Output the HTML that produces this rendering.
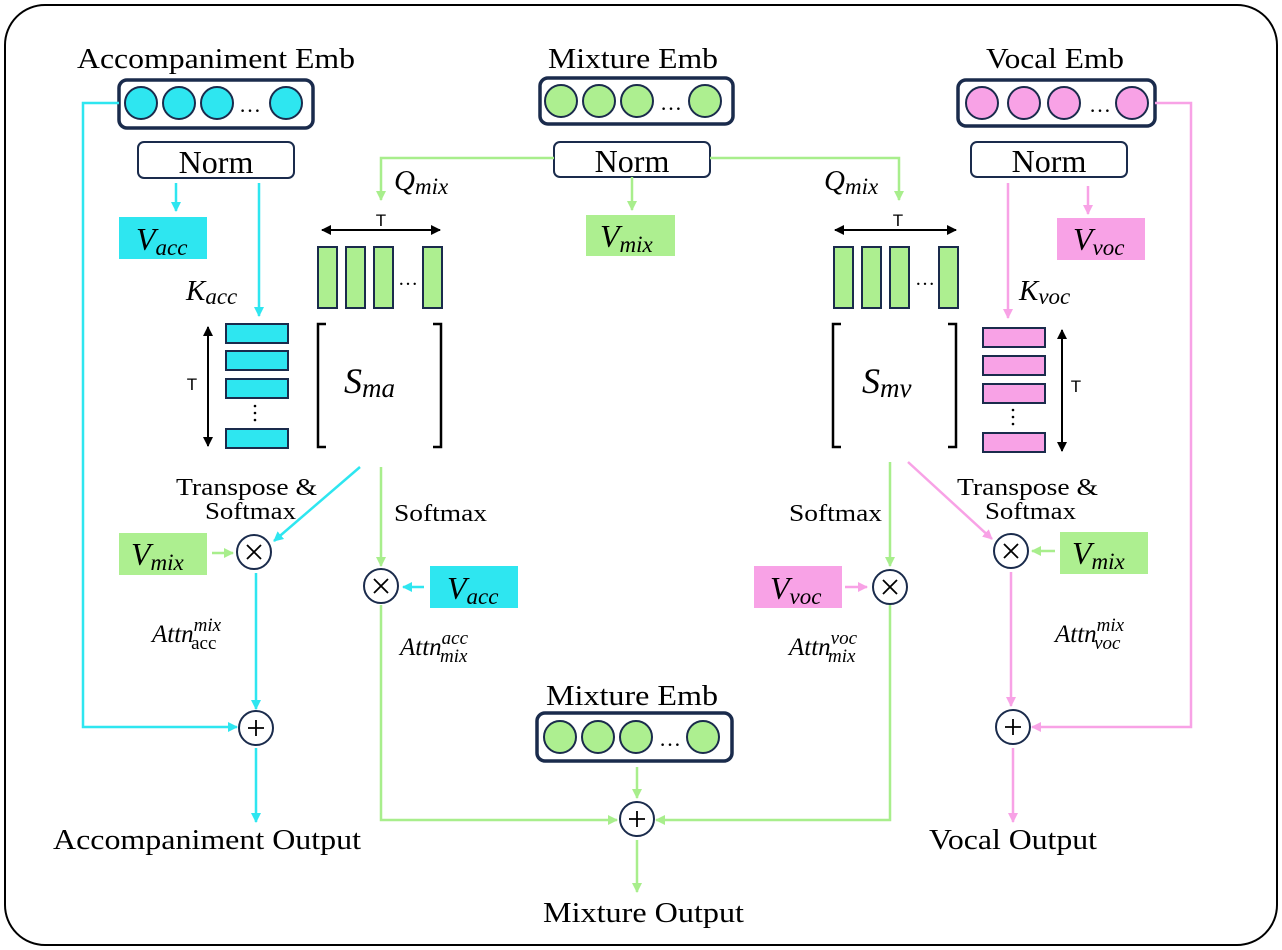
<!DOCTYPE html>
<html><head><meta charset="utf-8"><style>
html,body{margin:0;padding:0;background:#fff}
svg{display:block}
.t{font-family:"Liberation Serif",serif;fill:#000}
.m{font-family:"Liberation Serif",serif;font-style:italic;fill:#000}
.s{font-family:"Liberation Sans",sans-serif;fill:#000}
</style></head><body>
<svg width="1282" height="950" viewBox="0 0 1282 950" xmlns="http://www.w3.org/2000/svg">
<defs>
<marker id="ac" markerWidth="10" markerHeight="10" refX="9" refY="5" orient="auto" markerUnits="userSpaceOnUse"><path d="M0,0 L10,5 L0,10 z" fill="#2EE6F0"/></marker>
<marker id="ag" markerWidth="10" markerHeight="10" refX="9" refY="5" orient="auto" markerUnits="userSpaceOnUse"><path d="M0,0 L10,5 L0,10 z" fill="#A8EE8C"/></marker>
<marker id="ap" markerWidth="10" markerHeight="10" refX="9" refY="5" orient="auto" markerUnits="userSpaceOnUse"><path d="M0,0 L10,5 L0,10 z" fill="#F8A2E6"/></marker>
<marker id="ak" markerWidth="10" markerHeight="10" refX="9" refY="5" orient="auto-start-reverse" markerUnits="userSpaceOnUse"><path d="M0,0 L10,5 L0,10 z" fill="#000"/></marker>
</defs>
<rect x="5" y="5" width="1272" height="940" rx="40" fill="#fff" stroke="#000" stroke-width="2"/>

<text class="t" x="77" y="68" font-size="28" textLength="278" lengthAdjust="spacingAndGlyphs">Accompaniment Emb</text>
<text class="t" x="548" y="68" font-size="28" textLength="170" lengthAdjust="spacingAndGlyphs">Mixture Emb</text>
<text class="t" x="986" y="68" font-size="28" textLength="138" lengthAdjust="spacingAndGlyphs">Vocal Emb</text>

<g stroke="#1a2b4c">
<rect x="119" y="80" width="194" height="48" rx="8" fill="#fff" stroke-width="3.5"/>
<g fill="#2EE6F0" stroke-width="2"><circle cx="141" cy="103" r="16"/><circle cx="179" cy="103" r="16"/><circle cx="217" cy="103" r="16"/><circle cx="286" cy="103" r="16"/></g>
<rect x="540" y="78" width="193" height="46" rx="8" fill="#fff" stroke-width="3.5"/>
<g fill="#ADEF90" stroke-width="2"><circle cx="561" cy="101" r="16"/><circle cx="599" cy="101" r="16"/><circle cx="637" cy="101" r="16"/><circle cx="705" cy="101" r="16"/></g>
<rect x="958" y="80" width="197" height="46" rx="8" fill="#fff" stroke-width="3.5"/>
<g fill="#F8A2E6" stroke-width="2"><circle cx="982" cy="103" r="16"/><circle cx="1024" cy="103" r="16"/><circle cx="1064" cy="103" r="16"/><circle cx="1132" cy="103" r="16"/></g>
</g>
<text class="t" x="250" y="112" font-size="22" text-anchor="middle">…</text>
<text class="t" x="671" y="110" font-size="22" text-anchor="middle">…</text>
<text class="t" x="1100" y="112" font-size="22" text-anchor="middle">…</text>

<g fill="#fff" stroke="#1a2b4c" stroke-width="2">
<rect x="138" y="142" width="156" height="36" rx="6"/>
<rect x="554" y="142" width="156" height="35" rx="6"/>
<rect x="971" y="142" width="156" height="35" rx="6"/>
</g>
<text class="t" x="216" y="173" font-size="32" text-anchor="middle">Norm</text>
<text class="t" x="632" y="172" font-size="32" text-anchor="middle">Norm</text>
<text class="t" x="1049" y="172" font-size="32" text-anchor="middle">Norm</text>

<g stroke="#2EE6F0" stroke-width="2.5" fill="none">
<polyline points="119,103 83,103 83,727 237,727" marker-end="url(#ac)"/>
<line x1="176" y1="183" x2="176" y2="211" marker-end="url(#ac)"/>
<line x1="259" y1="183" x2="259" y2="316" marker-end="url(#ac)"/>
<line x1="360" y1="467" x2="274" y2="541" marker-end="url(#ac)"/>
<line x1="256" y1="573" x2="256" y2="709" marker-end="url(#ac)"/>
<line x1="256" y1="748" x2="256" y2="822" marker-end="url(#ac)"/>
<line x1="424" y1="587" x2="403" y2="587" marker-end="url(#ac)"/>
</g>
<g stroke="#A8EE8C" stroke-width="2.5" fill="none">
<polyline points="554,158 381,158 381,200" marker-end="url(#ag)"/>
<polyline points="710,158 899,158 899,200" marker-end="url(#ag)"/>
<line x1="632" y1="177" x2="632" y2="210" marker-end="url(#ag)"/>
<line x1="381" y1="467" x2="381" y2="566" marker-end="url(#ag)"/>
<polyline points="381,605 381,820 617,820" marker-end="url(#ag)"/>
<line x1="637" y1="767" x2="637" y2="798" marker-end="url(#ag)"/>
<line x1="637" y1="840" x2="637" y2="892" marker-end="url(#ag)"/>
<line x1="890" y1="462" x2="890" y2="566" marker-end="url(#ag)"/>
<polyline points="890,605 890,820 656,820" marker-end="url(#ag)"/>
<line x1="212" y1="553" x2="233" y2="553" marker-end="url(#ag)"/>
<line x1="1055" y1="551" x2="1032" y2="551" marker-end="url(#ag)"/>
</g>
<g stroke="#F8A2E6" stroke-width="2.5" fill="none">
<polyline points="1155,103 1191,103 1191,727 1032,727" marker-end="url(#ap)"/>
<line x1="1008" y1="183" x2="1008" y2="318" marker-end="url(#ap)"/>
<line x1="1088" y1="186" x2="1088" y2="214" marker-end="url(#ap)"/>
<line x1="908" y1="462" x2="992" y2="539" marker-end="url(#ap)"/>
<line x1="1011" y1="572" x2="1011" y2="706" marker-end="url(#ap)"/>
<line x1="1013" y1="748" x2="1013" y2="822" marker-end="url(#ap)"/>
<line x1="845" y1="587" x2="867" y2="587" marker-end="url(#ap)"/>
</g>

<rect x="119" y="217" width="88" height="42" fill="#2EE6F0"/>
<text class="m" x="136" y="250" font-size="32">V<tspan font-size="23" dy="5">acc</tspan></text>
<rect x="586" y="215" width="89" height="41" fill="#ADEF90"/>
<text class="m" x="600" y="247" font-size="32">V<tspan font-size="23" dy="5">mix</tspan></text>
<rect x="1057" y="218" width="88" height="42" fill="#F8A2E6"/>
<text class="m" x="1073" y="250" font-size="32">V<tspan font-size="23" dy="5">voc</tspan></text>

<rect x="119" y="533" width="88" height="42" fill="#ADEF90"/>
<text class="m" x="131" y="565" font-size="32">V<tspan font-size="23" dy="5">mix</tspan></text>
<rect x="430" y="566" width="88" height="42" fill="#2EE6F0"/>
<text class="m" x="447" y="599" font-size="32">V<tspan font-size="23" dy="5">acc</tspan></text>
<rect x="754" y="566" width="88" height="42" fill="#F8A2E6"/>
<text class="m" x="770" y="599" font-size="32">V<tspan font-size="23" dy="5">voc</tspan></text>
<rect x="1060" y="532" width="88" height="42" fill="#ADEF90"/>
<text class="m" x="1072" y="564" font-size="32">V<tspan font-size="23" dy="5">mix</tspan></text>

<text class="m" x="394" y="190" font-size="29">Q<tspan font-size="23" dy="4">mix</tspan></text>
<text class="m" x="824" y="190" font-size="29">Q<tspan font-size="23" dy="4">mix</tspan></text>
<text class="m" x="186" y="300" font-size="29">K<tspan font-size="23" dy="4">acc</tspan></text>
<text class="m" x="1019" y="300" font-size="29">K<tspan font-size="23" dy="4">voc</tspan></text>

<g stroke="#1a2b4c" stroke-width="2">
<g fill="#ADEF90">
<rect x="318" y="247" width="19" height="61"/><rect x="346" y="247" width="19" height="61"/><rect x="374" y="247" width="19" height="61"/><rect x="423" y="247" width="19" height="61"/>
<rect x="834" y="247" width="19" height="61"/><rect x="862" y="247" width="19" height="61"/><rect x="890" y="247" width="19" height="61"/><rect x="939" y="247" width="19" height="61"/>
</g>
<g fill="#2EE6F0">
<rect x="226" y="324" width="62" height="19"/><rect x="226" y="351" width="62" height="19"/><rect x="226" y="379" width="62" height="19"/><rect x="226" y="429" width="62" height="19"/>
</g>
<g fill="#F8A2E6">
<rect x="983" y="328" width="62" height="19"/><rect x="983" y="356" width="62" height="19"/><rect x="983" y="384" width="62" height="19"/><rect x="983" y="433" width="62" height="19"/>
</g>
</g>
<text class="t" x="408" y="285" font-size="20" text-anchor="middle">…</text>
<text class="t" x="925" y="285" font-size="20" text-anchor="middle">…</text>
<g fill="#000"><circle cx="255" cy="406" r="1.3"/><circle cx="255" cy="413" r="1.3"/><circle cx="255" cy="420" r="1.3"/>
<circle cx="1013" cy="410" r="1.3"/><circle cx="1013" cy="417" r="1.3"/><circle cx="1013" cy="424" r="1.3"/></g>

<g stroke="#000" stroke-width="2">
<line x1="322" y1="230" x2="440" y2="230" marker-start="url(#ak)" marker-end="url(#ak)"/>
<line x1="835" y1="230" x2="956" y2="230" marker-start="url(#ak)" marker-end="url(#ak)"/>
<line x1="208" y1="327" x2="208" y2="446" marker-start="url(#ak)" marker-end="url(#ak)"/>
<line x1="1062" y1="330" x2="1062" y2="451" marker-start="url(#ak)" marker-end="url(#ak)"/>
</g>
<text class="s" x="381" y="226" font-size="17" text-anchor="middle">T</text>
<text class="s" x="898" y="226" font-size="17" text-anchor="middle">T</text>
<text class="s" x="192" y="390" font-size="17" text-anchor="middle">T</text>
<text class="s" x="1076" y="392" font-size="17" text-anchor="middle">T</text>

<g stroke="#000" stroke-width="2.5" fill="none">
<polyline points="326,324 318,324 318,447 326,447"/>
<polyline points="433,324 441,324 441,447 433,447"/>
<polyline points="841,324 833,324 833,447 841,447"/>
<polyline points="948,324 956,324 956,447 948,447"/>
</g>
<text class="m" x="344" y="393" font-size="36">S<tspan font-size="27" dy="4">ma</tspan></text>
<text class="m" x="862" y="393" font-size="36">S<tspan font-size="27" dy="4">mv</tspan></text>

<text class="t" x="176" y="495" font-size="24" textLength="141" lengthAdjust="spacingAndGlyphs">Transpose &amp;</text>
<text class="t" x="205" y="519" font-size="24" textLength="91" lengthAdjust="spacingAndGlyphs">Softmax</text>
<text class="t" x="394" y="521" font-size="24" textLength="93" lengthAdjust="spacingAndGlyphs">Softmax</text>
<text class="t" x="789" y="521" font-size="24" textLength="93" lengthAdjust="spacingAndGlyphs">Softmax</text>
<text class="t" x="957" y="495" font-size="24" textLength="141" lengthAdjust="spacingAndGlyphs">Transpose &amp;</text>
<text class="t" x="985" y="519" font-size="24" textLength="91" lengthAdjust="spacingAndGlyphs">Softmax</text>

<g fill="#fff" stroke="#1a2b4c" stroke-width="2">
<circle cx="254" cy="552" r="17"/><circle cx="381" cy="586" r="17"/><circle cx="890" cy="587" r="17"/><circle cx="1011" cy="551" r="17"/>
<circle cx="256" cy="728" r="17"/><circle cx="637" cy="819" r="17"/><circle cx="1013" cy="727" r="17"/>
</g>
<g stroke="#000" stroke-width="1.8">
<path d="M247,545 L261,559 M261,545 L247,559"/>
<path d="M374,579 L388,593 M388,579 L374,593"/>
<path d="M883,580 L897,594 M897,580 L883,594"/>
<path d="M1004,544 L1018,558 M1018,544 L1004,558"/>
<path d="M256,720 V736 M248,728 H264"/>
<path d="M637,811 V827 M629,819 H645"/>
<path d="M1013,719 V735 M1005,727 H1021"/>
</g>

<text class="m" x="152" y="642" font-size="25">Attn<tspan font-size="19" dy="-11">mix</tspan><tspan font-size="19" font-style="normal" dx="-30" dy="18">acc</tspan></text>
<text class="m" x="400" y="655" font-size="25">Attn<tspan font-size="19" dy="-11">acc</tspan><tspan font-size="19" dx="-28" dy="18">mix</tspan></text>
<text class="m" x="789" y="655" font-size="25">Attn<tspan font-size="19" dy="-11">voc</tspan><tspan font-size="19" dx="-29" dy="18">mix</tspan></text>
<text class="m" x="1055" y="642" font-size="25">Attn<tspan font-size="19" dy="-11">mix</tspan><tspan font-size="19" dx="-30" dy="18">voc</tspan></text>

<text class="t" x="546" y="705" font-size="28" textLength="172" lengthAdjust="spacingAndGlyphs">Mixture Emb</text>
<rect x="537" y="713" width="195" height="48" rx="8" fill="#fff" stroke="#1a2b4c" stroke-width="3.5"/>
<g fill="#ADEF90" stroke="#1a2b4c" stroke-width="2"><circle cx="560" cy="737" r="16"/><circle cx="598" cy="737" r="16"/><circle cx="636" cy="737" r="16"/><circle cx="703" cy="737" r="16"/></g>
<text class="t" x="670" y="746" font-size="22" text-anchor="middle">…</text>

<text class="t" x="53" y="849" font-size="28" textLength="308" lengthAdjust="spacingAndGlyphs">Accompaniment Output</text>
<text class="t" x="929" y="849" font-size="28" textLength="168" lengthAdjust="spacingAndGlyphs">Vocal Output</text>
<text class="t" x="543" y="922" font-size="28" textLength="201" lengthAdjust="spacingAndGlyphs">Mixture Output</text>
</svg>
</body></html>
